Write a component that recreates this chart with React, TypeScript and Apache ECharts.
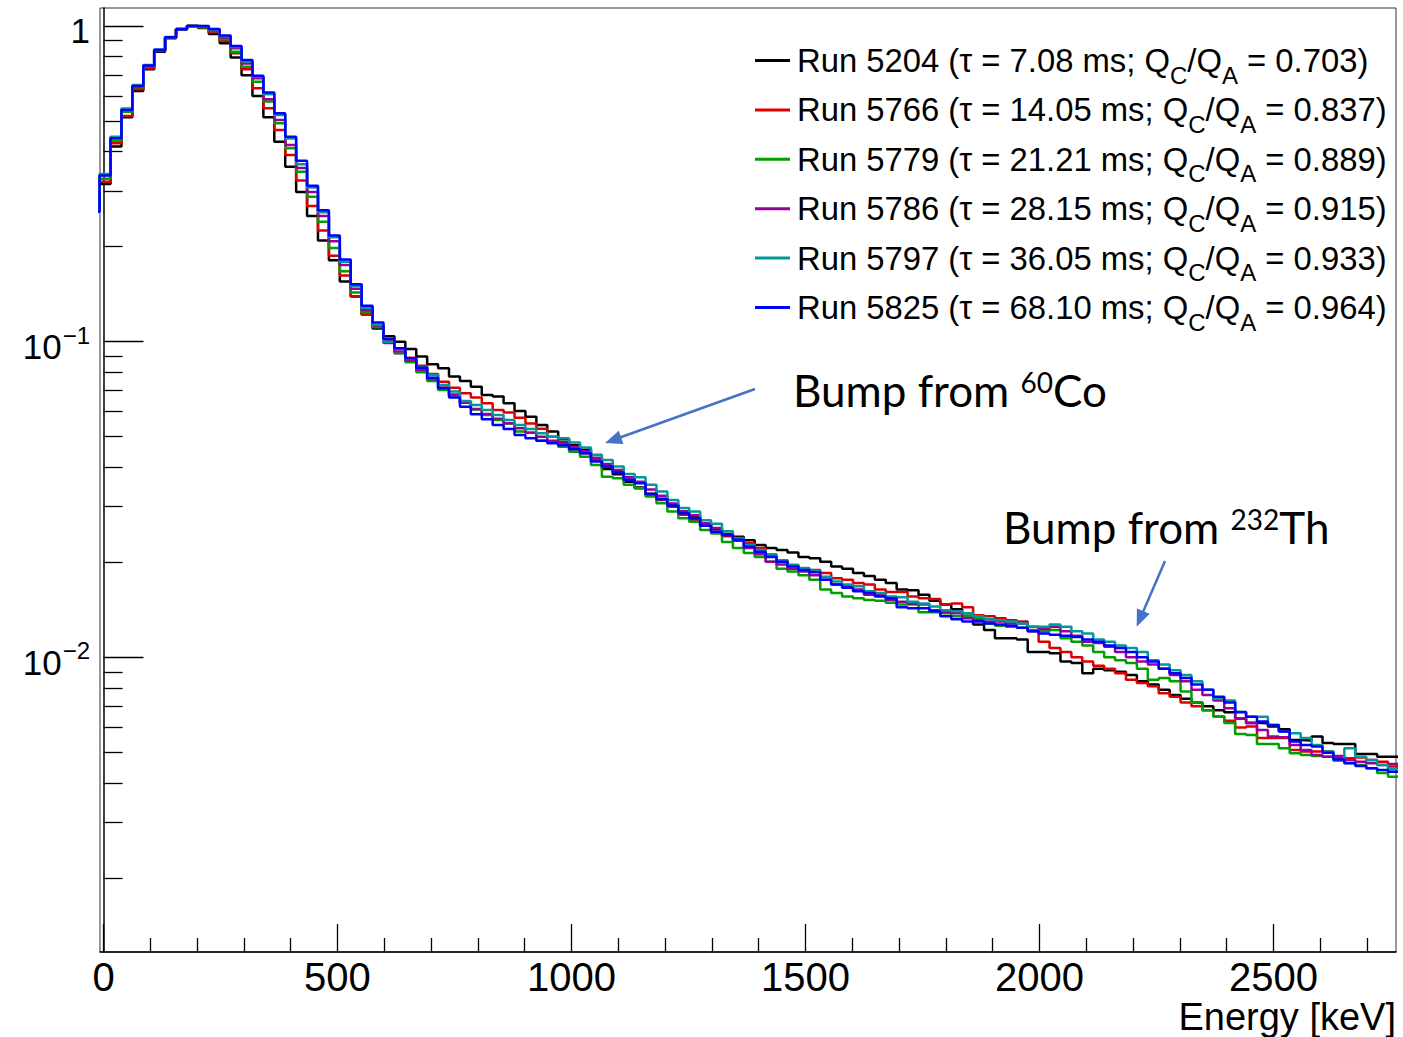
import React, { useEffect, useRef } from "react";
import * as echarts from "echarts";

// Histogram binning (keV): low edge of the bin just left of the frame, and bin width
const FIRST_EDGE = -31.67;
const BIN_WIDTH = 23.333;
const X_MIN = -7.5;
const X_MAX = 2762;
const Y_MIN = 0.001166;
const Y_MAX = 1.14;

const X_MAJOR = [0, 500, 1000, 1500, 2000, 2500];
const X_MINOR = [100, 200, 300, 400, 600, 700, 800, 900, 1100, 1200, 1300, 1400, 1600, 1700, 1800, 1900, 2100, 2200, 2300, 2400, 2600, 2700];
const Y_MAJOR = [0.01, 0.1, 1];
const Y_MINOR = [0.002, 0.003, 0.004, 0.005, 0.006, 0.007, 0.008, 0.009, 0.02, 0.03, 0.04, 0.05, 0.06, 0.07, 0.08, 0.09, 0.2, 0.3, 0.4, 0.5, 0.6, 0.7, 0.8, 0.9];
const X_TITLE = "Energy [keV]";

const RUNS = ["5204", "5766", "5779", "5786", "5797", "5825"];
const TAUS = ["7.08", "14.05", "21.21", "28.15", "36.05", "68.10"];
const RATIOS = ["0.703", "0.837", "0.889", "0.915", "0.933", "0.964"];
const COLORS = ["#000000", "#dd0000", "#00a000", "#990099", "#009999", "#0000ff"];

// normalised counts per bin (first entry = bin left of the frame)
const RUN_5204 = [0.26,
  0.316, 0.415, 0.514, 0.622, 0.729, 0.829, 0.915, 0.975, 1.0, 0.985,
  0.943, 0.881, 0.794, 0.698, 0.600, 0.514, 0.430, 0.358, 0.298, 0.250,
  0.209, 0.181, 0.155, 0.139, 0.122, 0.110, 0.104, 0.100, 0.0948, 0.0897,
  0.0848, 0.0824, 0.0775, 0.0751, 0.0720, 0.0678, 0.0670, 0.0638, 0.0603, 0.0578,
  0.0545, 0.0519, 0.0491, 0.0470, 0.0455, 0.0428, 0.0395, 0.0380, 0.0360, 0.0345,
  0.0330, 0.0318, 0.0305, 0.0290, 0.0278, 0.0262, 0.0255, 0.0246, 0.0241, 0.0235,
  0.0227, 0.0222, 0.0219, 0.0215, 0.0208, 0.0206, 0.0201, 0.0194, 0.0191, 0.0185,
  0.0181, 0.0176, 0.0172, 0.0164, 0.0163, 0.0158, 0.0151, 0.0147, 0.0142, 0.0138,
  0.0127, 0.0122, 0.0115, 0.0115, 0.0114, 0.0104, 0.0104, 0.0103, 0.0097, 0.0096,
  0.0089, 0.0092, 0.0091, 0.0090, 0.0088, 0.0084, 0.0082, 0.0079, 0.0076, 0.0074,
  0.0072, 0.0070, 0.0068, 0.0067, 0.0064, 0.00621, 0.00618, 0.00604, 0.00592, 0.00547,
  0.00545, 0.00561, 0.00535, 0.00532, 0.00532, 0.00494, 0.00494, 0.00484, 0.00484];

const RUN_5766 = [0.26,
  0.321, 0.425, 0.519, 0.630, 0.735, 0.835, 0.918, 0.978, 1.0, 0.99,
  0.955, 0.896, 0.819, 0.729, 0.635, 0.549, 0.468, 0.390, 0.324, 0.269,
  0.225, 0.187, 0.162, 0.139, 0.122, 0.112, 0.101, 0.0950, 0.0890, 0.0839,
  0.0790, 0.0747, 0.0715, 0.0687, 0.0665, 0.0638, 0.0608, 0.0597, 0.0574, 0.0551,
  0.0530, 0.0500, 0.0478, 0.0456, 0.0443, 0.0422, 0.0402, 0.0387, 0.0365, 0.0343,
  0.0327, 0.0315, 0.0300, 0.0283, 0.0272, 0.0263, 0.0250, 0.0242, 0.0239, 0.0230,
  0.0222, 0.0211, 0.0203, 0.0196, 0.0191, 0.0189, 0.0185, 0.0178, 0.0176, 0.0172,
  0.0170, 0.0164, 0.0161, 0.0161, 0.0156, 0.0154, 0.0153, 0.0147, 0.0148, 0.0144,
  0.0136, 0.0135, 0.0133, 0.0131, 0.0130, 0.0121, 0.0112, 0.0107, 0.0104, 0.0100,
  0.0097, 0.0094, 0.0092, 0.0089, 0.0085, 0.0083, 0.0081, 0.0077, 0.0075, 0.0072,
  0.0070, 0.0068, 0.0065, 0.0063, 0.0060, 0.00604, 0.00555, 0.00555, 0.00555, 0.00509,
  0.00503, 0.00503, 0.00503, 0.00479, 0.00479, 0.00482, 0.00473, 0.00467, 0.00451];

const RUN_5779 = [0.26,
  0.328, 0.433, 0.535, 0.640, 0.745, 0.838, 0.920, 0.978, 1.0, 0.99,
  0.964, 0.908, 0.829, 0.743, 0.666, 0.576, 0.492, 0.410, 0.345, 0.288,
  0.240, 0.198, 0.167, 0.143, 0.124, 0.111, 0.0995, 0.0918, 0.0861, 0.0800,
  0.0751, 0.0703, 0.0675, 0.0640, 0.0610, 0.0586, 0.0565, 0.0551, 0.0519, 0.0515,
  0.0485, 0.0478, 0.0465, 0.0448, 0.0432, 0.0407, 0.0373, 0.0369, 0.0352, 0.0343,
  0.0323, 0.0308, 0.0290, 0.0276, 0.0269, 0.0253, 0.0247, 0.0232, 0.0222, 0.0214,
  0.0208, 0.0201, 0.0191, 0.0187, 0.0182, 0.0176, 0.0164, 0.0160, 0.0156, 0.0154,
  0.0152, 0.0151, 0.0149, 0.0147, 0.0147, 0.0139, 0.0139, 0.0138, 0.0135, 0.0135,
  0.0133, 0.0128, 0.0126, 0.0125, 0.0124, 0.0122, 0.0121, 0.0122, 0.0115, 0.0112,
  0.0109, 0.0104, 0.0100, 0.0098, 0.0096, 0.0092, 0.0085, 0.0086, 0.0084, 0.0078,
  0.0072, 0.0068, 0.0065, 0.0062, 0.00572, 0.00568, 0.00532, 0.00532, 0.00515, 0.00497,
  0.00491, 0.00487, 0.00484, 0.00471, 0.00463, 0.00456, 0.00445, 0.00430, 0.00419];

const RUN_5786 = [0.26,
  0.337, 0.442, 0.544, 0.645, 0.748, 0.840, 0.921, 0.978, 1.0, 0.995,
  0.970, 0.920, 0.850, 0.760, 0.683, 0.586, 0.504, 0.420, 0.355, 0.298,
  0.250, 0.208, 0.175, 0.147, 0.126, 0.112, 0.099, 0.0930, 0.0872, 0.0815,
  0.0762, 0.0716, 0.0680, 0.0640, 0.0612, 0.0590, 0.0570, 0.0552, 0.0532, 0.0515,
  0.0500, 0.0485, 0.0480, 0.0465, 0.0450, 0.0428, 0.0410, 0.0392, 0.0372, 0.0360,
  0.0340, 0.0325, 0.0307, 0.0290, 0.0282, 0.0266, 0.0257, 0.0244, 0.0234, 0.0222,
  0.0212, 0.0201, 0.0197, 0.0191, 0.0187, 0.0182, 0.0176, 0.0170, 0.0168, 0.0164,
  0.0158, 0.0158, 0.0152, 0.0150, 0.0148, 0.0147, 0.0141, 0.0139, 0.0138, 0.0133,
  0.0131, 0.0130, 0.0130, 0.0128, 0.0128, 0.0125, 0.0123, 0.0125, 0.0121, 0.0117,
  0.0112, 0.0111, 0.0108, 0.0104, 0.0100, 0.0097, 0.0095, 0.0092, 0.0088, 0.0084,
  0.0079, 0.0076, 0.0073, 0.0069, 0.0064, 0.00618, 0.00589, 0.00561, 0.00558, 0.00528,
  0.00509, 0.00491, 0.00484, 0.00487, 0.00473, 0.00467, 0.00462, 0.00456, 0.00459];

const RUN_5797 = [0.26,
  0.340, 0.446, 0.548, 0.650, 0.752, 0.842, 0.922, 0.978, 1.0, 0.998,
  0.975, 0.928, 0.858, 0.772, 0.690, 0.608, 0.522, 0.440, 0.365, 0.308,
  0.257, 0.214, 0.179, 0.150, 0.128, 0.113, 0.100, 0.0950, 0.0885, 0.0830,
  0.0784, 0.0729, 0.0695, 0.0649, 0.0630, 0.0608, 0.0586, 0.0565, 0.0545, 0.0529,
  0.0513, 0.0500, 0.0494, 0.0479, 0.0462, 0.0438, 0.0422, 0.0402, 0.0381, 0.0372,
  0.0352, 0.0335, 0.0315, 0.0297, 0.0290, 0.0272, 0.0265, 0.0251, 0.0238, 0.0227,
  0.0219, 0.0212, 0.0203, 0.0196, 0.0192, 0.0188, 0.0180, 0.0174, 0.0170, 0.0168,
  0.0162, 0.0160, 0.0156, 0.0155, 0.0150, 0.0148, 0.0145, 0.0141, 0.0140, 0.0138,
  0.0135, 0.0132, 0.0131, 0.0130, 0.0128, 0.0125, 0.0125, 0.0127, 0.0125, 0.0121,
  0.0119, 0.0114, 0.0112, 0.0109, 0.0107, 0.0104, 0.0098, 0.0095, 0.0091, 0.0088,
  0.0084, 0.0079, 0.0074, 0.0073, 0.00673, 0.00649, 0.00649, 0.00611, 0.00582, 0.00575,
  0.00555, 0.00528, 0.00503, 0.00471, 0.00515, 0.00484, 0.00473, 0.00456, 0.00442];

const RUN_5825 = [0.258,
  0.336, 0.441, 0.542, 0.645, 0.749, 0.839, 0.921, 0.976, 1.0, 1.0,
  0.978, 0.932, 0.864, 0.780, 0.696, 0.615, 0.529, 0.446, 0.374, 0.312,
  0.261, 0.217, 0.182, 0.152, 0.130, 0.115, 0.102, 0.0953, 0.0886, 0.0827,
  0.0769, 0.0712, 0.0665, 0.0622, 0.0589, 0.0568, 0.0545, 0.0529, 0.0506, 0.0494,
  0.0485, 0.0477, 0.0470, 0.0456, 0.0443, 0.0417, 0.0402, 0.0385, 0.0365, 0.0356,
  0.0329, 0.0317, 0.0302, 0.0286, 0.0276, 0.0261, 0.0250, 0.0244, 0.0236, 0.0224,
  0.0216, 0.0208, 0.0201, 0.0194, 0.0189, 0.0186, 0.0176, 0.0170, 0.0166, 0.0162,
  0.0160, 0.0156, 0.0154, 0.0144, 0.0143, 0.0143, 0.0140, 0.0135, 0.0132, 0.0130,
  0.0130, 0.0128, 0.0127, 0.0126, 0.0124, 0.0121, 0.0119, 0.0118, 0.0117, 0.0116,
  0.0114, 0.0112, 0.0109, 0.0107, 0.0104, 0.0100, 0.0097, 0.0092, 0.0089, 0.0086,
  0.0082, 0.0079, 0.0075, 0.0072, 0.0067, 0.00649, 0.00626, 0.00611, 0.00582, 0.00541,
  0.00528, 0.00522, 0.00499, 0.00475, 0.00462, 0.00453, 0.00445, 0.00440, 0.00434];

const SERIES_VALUES = [RUN_5204, RUN_5766, RUN_5779, RUN_5786, RUN_5797, RUN_5825];

const FONT = "'Liberation Sans', Arial, Helvetica, sans-serif";
const ANNOT_FONT = "Lato, 'Open Sans', sans-serif";
const ARROW = "#4472C4";

function toSteps(values: number[]) {
  const pts: number[][] = values.map((v, i) => [FIRST_EDGE + i * BIN_WIDTH, v]);
  pts.push([FIRST_EDGE + values.length * BIN_WIDTH, values[values.length - 1]]);
  return pts;
}

function seriesName(i: number) {
  return `Run ${RUNS[i]} (τ = ${TAUS[i]} ms; QC/QA = ${RATIOS[i]})`;
}

export default function App() {
  const ref = useRef<HTMLDivElement>(null);
  useEffect(() => {
    if (!ref.current) return;
    const chart = echarts.init(ref.current, undefined, { renderer: "svg" });
    const names = RUNS.map((_, i) => seriesName(i));
    const option: any = {
      animation: false,
      backgroundColor: "#ffffff",
      textStyle: { fontFamily: FONT },
      grid: {
        left: 100, right: 7, top: 8, bottom: 85, show: true, borderColor: "#333", borderWidth: 1,
        backgroundColor: "transparent", containLabel: false, outerBoundsMode: "none",
      },
      xAxis: [
        {
          type: "value", min: X_MIN, max: X_MAX, position: "bottom",
          axisLine: { show: true, onZero: false, lineStyle: { color: "#000", width: 1.5 } },
          axisTick: { show: true, inside: true, length: 28, customValues: X_MAJOR, lineStyle: { color: "#000", width: 1.3 } },
          axisLabel: { show: true, customValues: X_MAJOR, fontSize: 40, color: "#000", margin: 5, fontFamily: FONT, formatter: (v: number) => String(Math.round(v)) },
          splitLine: { show: false },
        },
        {
          type: "value", min: X_MIN, max: X_MAX, position: "bottom",
          axisLine: { show: false, onZero: false },
          axisTick: { show: true, inside: true, length: 14, customValues: X_MINOR, lineStyle: { color: "#000", width: 1.3 } },
          axisLabel: { show: false },
          splitLine: { show: false },
        },
      ],
      yAxis: [
        {
          type: "log", logBase: 10, min: Y_MIN, max: Y_MAX, position: "left",
          axisLine: { show: true, lineStyle: { color: "#000", width: 1.5 } },
          axisTick: { show: true, inside: true, length: 40, customValues: Y_MAJOR, lineStyle: { color: "#000", width: 1.3 } },
          axisLabel: {
            show: true, customValues: Y_MAJOR, margin: 10, color: "#000", fontFamily: FONT,
            formatter: (v: number) => {
              const e = Math.round(Math.log10(v));
              return e === 0 ? "{b|1}" : `{b|10}{e|\u2212${-e}}`;
            },
            rich: {
              b: { fontSize: 35, color: "#000", fontFamily: FONT, padding: [10, 0, 0, 0] },
              e: { fontSize: 24, color: "#000", fontFamily: FONT, verticalAlign: "top", padding: [4, 0, 0, 1] },
            },
          },
          splitLine: { show: false },
        },
        {
          type: "log", logBase: 10, min: Y_MIN, max: Y_MAX, position: "left",
          axisLine: { show: false },
          axisTick: { show: true, inside: true, length: 19, customValues: Y_MINOR, lineStyle: { color: "#000", width: 1.3 } },
          axisLabel: { show: false },
          splitLine: { show: false },
        },
      ],
      legend: {
        orient: "vertical", left: 755, top: 44, padding: 0, itemGap: 6.4,
        itemWidth: 35, itemHeight: 3, icon: "rect", selectedMode: false,
        data: names,
        formatter: (name: string) => {
          const i = names.indexOf(name);
          return `{m|Run ${RUNS[i]} (τ = ${TAUS[i]} ms; Q}{s|C}{m|/Q}{s|A}{m| = ${RATIOS[i]})}`;
        },
        textStyle: {
          fontFamily: FONT, fontSize: 32.8, color: "#000", padding: [0, 0, 0, 2],
          rich: {
            m: { fontSize: 32.8, fontFamily: FONT, color: "#000", padding: [10, 0, 10, 0] },
            s: { fontSize: 24, fontFamily: FONT, color: "#000", verticalAlign: "bottom" },
          },
        },
      },
      graphic: [
        {
          type: "text", x: 1396, y: 1017,
          style: { text: X_TITLE, align: "right", verticalAlign: "middle", fill: "#000", fontSize: 38, fontFamily: FONT },
        },
        {
          type: "text", x: 793, y: 390,
          style: {
            text: "{t|Bump from }{u|60}{t|Co}", verticalAlign: "middle", fill: "#000",
            rich: {
              t: { fontSize: 44, fontFamily: ANNOT_FONT, fill: "#000" },
              u: { fontSize: 28, fontFamily: ANNOT_FONT, fill: "#000", verticalAlign: "top" },
            },
          },
        },
        {
          type: "text", x: 1003, y: 527,
          style: {
            text: "{t|Bump from }{u|232}{t|Th}", verticalAlign: "middle", fill: "#000",
            rich: {
              t: { fontSize: 44, fontFamily: ANNOT_FONT, fill: "#000" },
              u: { fontSize: 28, fontFamily: ANNOT_FONT, fill: "#000", verticalAlign: "top" },
            },
          },
        },
        { type: "line", shape: { x1: 755, y1: 389, x2: 620, y2: 437.5 }, style: { stroke: ARROW, lineWidth: 2.5 } },
        { type: "polygon", shape: { points: [[605, 443], [623.4, 444.0], [618.8, 430.8]] }, style: { fill: ARROW } },
        { type: "line", shape: { x1: 1165, y1: 561, x2: 1143, y2: 612 }, style: { stroke: ARROW, lineWidth: 2.5 } },
        { type: "polygon", shape: { points: [[1136.7, 626.7], [1149.7, 613.8], [1136.9, 608.4]] }, style: { fill: ARROW } },
      ],
      series: SERIES_VALUES.map((vals, i) => ({
        type: "line", name: names[i], step: "end", symbol: "none", showSymbol: false,
        xAxisIndex: 0, yAxisIndex: 0, clip: true, z: 2 + i,
        data: toSteps(vals),
        lineStyle: { color: COLORS[i], width: 2.5 },
        itemStyle: { color: COLORS[i] },
        emphasis: { disabled: true },
      })),
    };
    chart.setOption(option);
    return () => chart.dispose();
  }, []);
  return <div ref={ref} style={{ position: "absolute", left: 0, top: 0, width: 1403, height: 1037 }} />;
}
